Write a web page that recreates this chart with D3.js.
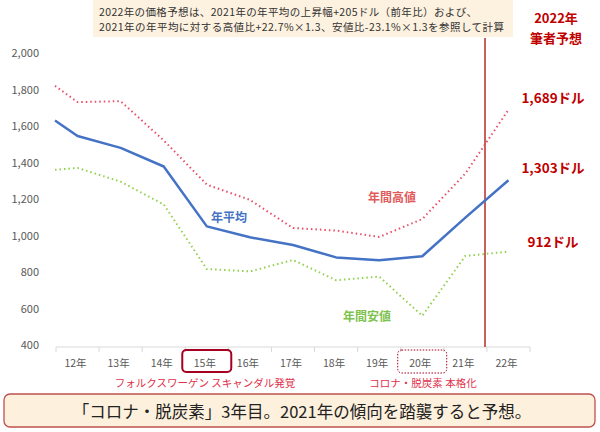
<!DOCTYPE html>
<html>
<head>
<meta charset="utf-8">
<script src="https://cdn.jsdelivr.net/npm/d3@7"></script>
<style>
body { margin: 0; background: #fff; }
svg { font-family: "Noto Sans CJK JP", "Noto Sans", sans-serif; }
</style>
</head>
<body>
<svg id="chart" width="600" height="432"></svg>
<script>
// categories and values (USD)
var years = ["12年", "13年", "14年", "15年", "16年", "17年", "18年", "19年", "20年", "21年", "22年"];
var yTicks = [400, 600, 800, 1000, 1200, 1400, 1600, 1800, 2000];
// first value of each series sits at the left edge of the axis
var avgLead = 1630, highLead = 1820, lowLead = 1360;
var avgVals  = [1545, 1480, 1378, 1050, 990, 948, 880, 864, 886, 1098, 1303];
var highVals = [1731, 1736, 1521, 1279, 1195, 1041, 1027, 992, 1090, 1340, 1689];
var lowVals  = [1370, 1295, 1170, 816, 803, 866, 755, 775, 560, 888, 912];
var endLabels = ["1,689ドル", "1,303ドル", "912ドル"];

var svg = d3.select("#chart");

var x = d3.scaleBand().domain(years).range([56, 530]).paddingInner(0).paddingOuter(0);
var y = d3.scaleLinear().domain([400, 2000]).range([345, 53]);

function pts(lead, vals) {
    var p = [[x(years[0]) - 1, y(lead)]];
    vals.forEach(function (v, i) {
        p.push([x(years[i]) + x.bandwidth() / 2, y(v)]);
    });
    return p;
}

// note box on top
svg.append("rect").attr("x", 93).attr("y", 0).attr("width", 420).attr("height", 37)
    .attr("fill", "#fdf1df");
svg.append("text").attr("x", 99).attr("y", 16).attr("font-size", 10.5).attr("fill", "#333")
    .attr("textLength", 378)
    .text("2022年の価格予想は、2021年の年平均の上昇幅+205ドル（前年比）および、");
svg.append("text").attr("x", 99).attr("y", 31).attr("font-size", 10.5).attr("fill", "#333")
    .attr("textLength", 405)
    .text("2021年の年平均に対する高値比+22.7%×1.3、安値比-23.1%×1.3を参照して計算");

svg.append("text").attr("x", 556).attr("y", 23).attr("text-anchor", "middle")
    .attr("font-size", 13).attr("font-weight", "bold").attr("fill", "#c00000").text("2022年");
svg.append("text").attr("x", 556).attr("y", 43).attr("text-anchor", "middle")
    .attr("font-size", 13).attr("font-weight", "bold").attr("fill", "#c00000").text("筆者予想");

// y labels
svg.selectAll(".ylab").data(yTicks).enter().append("text")
    .attr("class", "ylab")
    .attr("x", 39).attr("y", function (d) { return y(d) + 4; })
    .attr("text-anchor", "end").attr("font-size", 11).attr("fill", "#595959")
    .text(function (d) { return d3.format(",")(d); });

// x axis
var axisY = 347;
svg.append("line").attr("x1", 56).attr("x2", 530).attr("y1", axisY).attr("y2", axisY)
    .attr("stroke", "#d9d9d9").attr("stroke-width", 1);
var bounds = years.map(function (d) { return x(d); }).concat([530]);
svg.selectAll(".xtick").data(bounds).enter().append("line")
    .attr("x1", function (d) { return d; }).attr("x2", function (d) { return d; })
    .attr("y1", axisY).attr("y2", axisY + 5)
    .attr("stroke", "#d9d9d9");
svg.selectAll(".xlab").data(years).enter().append("text")
    .attr("x", function (d) { return x(d) + x.bandwidth() / 2 - 2; })
    .attr("y", 367).attr("text-anchor", "middle")
    .attr("font-size", 10.5).attr("fill", "#595959")
    .text(function (d) { return d; });

// highlight boxes under 15年 and 20年
svg.append("rect").attr("x", x("15年") - 3).attr("y", 350).attr("width", 49).attr("height", 22)
    .attr("rx", 4).attr("fill", "none").attr("stroke", "#a50021").attr("stroke-width", 2);
svg.append("rect").attr("x", x("20年") - 3).attr("y", 350).attr("width", 49).attr("height", 23)
    .attr("rx", 4).attr("fill", "none").attr("stroke", "#a50021").attr("stroke-width", 1)
    .attr("stroke-dasharray", "1.5,1.5");

svg.append("text").attr("x", 205).attr("y", 387).attr("text-anchor", "middle")
    .attr("font-size", 10.5).attr("fill", "#e0304a").text("フォルクスワーゲン スキャンダル発覚");
svg.append("text").attr("x", 423).attr("y", 387).attr("text-anchor", "middle")
    .attr("font-size", 10.5).attr("fill", "#e0304a").text("コロナ・脱炭素 本格化");

// vertical forecast line
svg.append("line").attr("x1", 485).attr("x2", 485).attr("y1", 38).attr("y2", axisY)
    .attr("stroke", "#c0504d").attr("stroke-width", 1.8);

// series
var line = d3.line();
svg.append("path").attr("d", line(pts(highLead, highVals)))
    .attr("fill", "none").attr("stroke", "#e8506a").attr("stroke-width", 2)
    .attr("stroke-dasharray", "1.5,3");
svg.append("path").attr("d", line(pts(lowLead, lowVals)))
    .attr("fill", "none").attr("stroke", "#92d050").attr("stroke-width", 2)
    .attr("stroke-dasharray", "1.5,3");
svg.append("path").attr("d", line(pts(avgLead, avgVals)))
    .attr("fill", "none").attr("stroke", "#4472c4").attr("stroke-width", 2.5)
    .attr("stroke-linejoin", "round");

// series labels
svg.append("text").attr("x", 211).attr("y", 222).attr("font-size", 12)
    .attr("font-weight", "bold").attr("fill", "#4472c4").text("年平均");
svg.append("text").attr("x", 368).attr("y", 202).attr("font-size", 12)
    .attr("font-weight", "bold").attr("fill", "#e05a5a").text("年間高値");
svg.append("text").attr("x", 343).attr("y", 321).attr("font-size", 12)
    .attr("font-weight", "bold").attr("fill", "#7dc24b").text("年間安値");

// end value labels
var endVals = [highVals[10], avgVals[10], lowVals[10]];
svg.selectAll(".endlab").data(endLabels).enter().append("text")
    .attr("x", 553).attr("y", function (d, i) { return y(endVals[i]) - 7 + [0, 0, 2][i]; })
    .attr("text-anchor", "middle").attr("font-size", 13.5).attr("font-weight", "bold")
    .attr("fill", "#c00000")
    .text(function (d) { return d; });

// bottom message box
svg.append("rect").attr("x", 4).attr("y", 394).attr("width", 591).attr("height", 33)
    .attr("rx", 6).attr("fill", "#fdf0dc").attr("stroke", "#c0504d").attr("stroke-width", 1.3);
svg.append("text").attr("x", 302).attr("y", 418).attr("text-anchor", "middle")
    .attr("font-size", 16.5).attr("fill", "#222")
    .text("「コロナ・脱炭素」3年目。2021年の傾向を踏襲すると予想。");
</script>
</body>
</html>
